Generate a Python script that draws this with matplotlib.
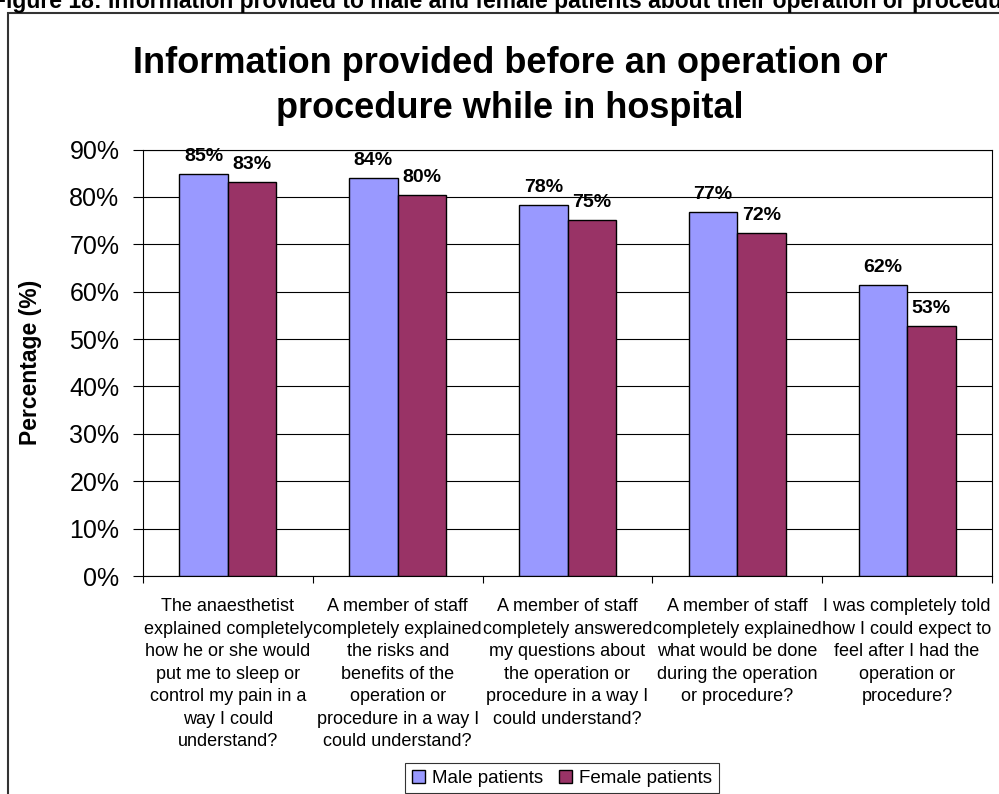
import numpy as np
import matplotlib
matplotlib.use("Agg")
import matplotlib.pyplot as plt
from matplotlib.patches import Rectangle

plt.rcParams['font.family'] = ['Liberation Sans', 'DejaVu Sans']

categories = [
    "The anaesthetist\nexplained completely\nhow he or she would\nput me to sleep or\ncontrol my pain in a\nway I could\nunderstand?",
    "A member of staff\ncompletely explained\nthe risks and\nbenefits of the\noperation or\nprocedure in a way I\ncould understand?",
    "A member of staff\ncompletely answered\nmy questions about\nthe operation or\nprocedure in a way I\ncould understand?",
    "A member of staff\ncompletely explained\nwhat would be done\nduring the operation\nor procedure?",
    "I was completely told\nhow I could expect to\nfeel after I had the\noperation or\nprocedure?",
]
male = [84.9, 83.9, 78.3, 76.9, 61.5]
female = [83.1, 80.4, 75.2, 72.3, 52.8]
male_labels = ["85%", "84%", "78%", "77%", "62%"]
female_labels = ["83%", "80%", "75%", "72%", "53%"]
yticks = [0, 10, 20, 30, 40, 50, 60, 70, 80, 90]

fig = plt.figure(figsize=(9.99, 7.94), dpi=100)
W, H = 999, 794

# outer chart border
fig.patches.append(Rectangle((8 / W, -0.05), 1.1, 1 - 13 / H + 0.05,
                             transform=fig.transFigure, fill=False,
                             edgecolor='#333333', linewidth=1.5))

# document caption, cut off at the top like in the source
fig.text(-8 / W, 1 - 8 / H,
         "Figure 18: Information provided to male and female patients about their operation or procedure",
         fontsize=16.5, fontweight='bold', ha='left', va='baseline')

ax = fig.add_axes([143 / W, 1 - 576 / H, 849 / W, (576 - 149.5) / H])

x = np.arange(len(categories))
w = 0.286
bm = ax.bar(x - w / 2, male, w, color='#9999FF', edgecolor='black', linewidth=1,
            label='Male patients', zorder=3)
bf = ax.bar(x + w / 2, female, w, color='#993366', edgecolor='black', linewidth=1,
            label='Female patients', zorder=3)

for bars, labs in ((bm, male_labels), (bf, female_labels)):
    for b, lab in zip(bars, labs):
        ax.annotate(lab, (b.get_x() + b.get_width() / 2, b.get_height()),
                    xytext=(0, 6.5), textcoords='offset points', ha='center',
                    va='bottom', fontsize=14, fontweight='bold', zorder=4)

ax.set_xlim(-0.5, len(categories) - 0.5)
ax.set_ylim(0, 90)
ax.set_yticks(yticks)
ax.set_yticklabels([f"{v}%" for v in yticks], fontsize=18)
ax.yaxis.grid(True, color='black', linewidth=0.8, zorder=0)
ax.tick_params(axis='y', length=7, width=0.8, pad=10)

ax.set_xticks(x)
ax.set_xticklabels(categories, fontsize=13, linespacing=1.42, va='top')
ax.tick_params(axis='x', which='major', length=0, pad=16)
ax.set_xticks(np.arange(-0.5, len(categories), 1.0), minor=True)
ax.tick_params(axis='x', which='minor', length=5, width=0.8)

for s in ax.spines.values():
    s.set_color('black')
    s.set_linewidth(0.8)

ax.set_ylabel("Percentage (%)", fontsize=16.5, fontweight='bold')
ax.yaxis.set_label_coords((42 - 143) / 849, 0.5)

fig.text(510 / W, 1 - 86 / H,
         "Information provided before an operation or\nprocedure while in hospital",
         fontsize=26, fontweight='bold', ha='center', va='center', linespacing=1.35)

leg = fig.legend(handles=[bm, bf], loc='upper center',
                 bbox_to_anchor=(562 / W, 1 - 763 / H), ncol=2, fontsize=13.5,
                 frameon=True, fancybox=False, edgecolor='black',
                 handlelength=0.7, handleheight=0.7, handletextpad=0.4,
                 columnspacing=0.8, borderpad=0.35, borderaxespad=0)
leg.get_frame().set_linewidth(0.8)

fig.savefig("out.png", dpi=100)
